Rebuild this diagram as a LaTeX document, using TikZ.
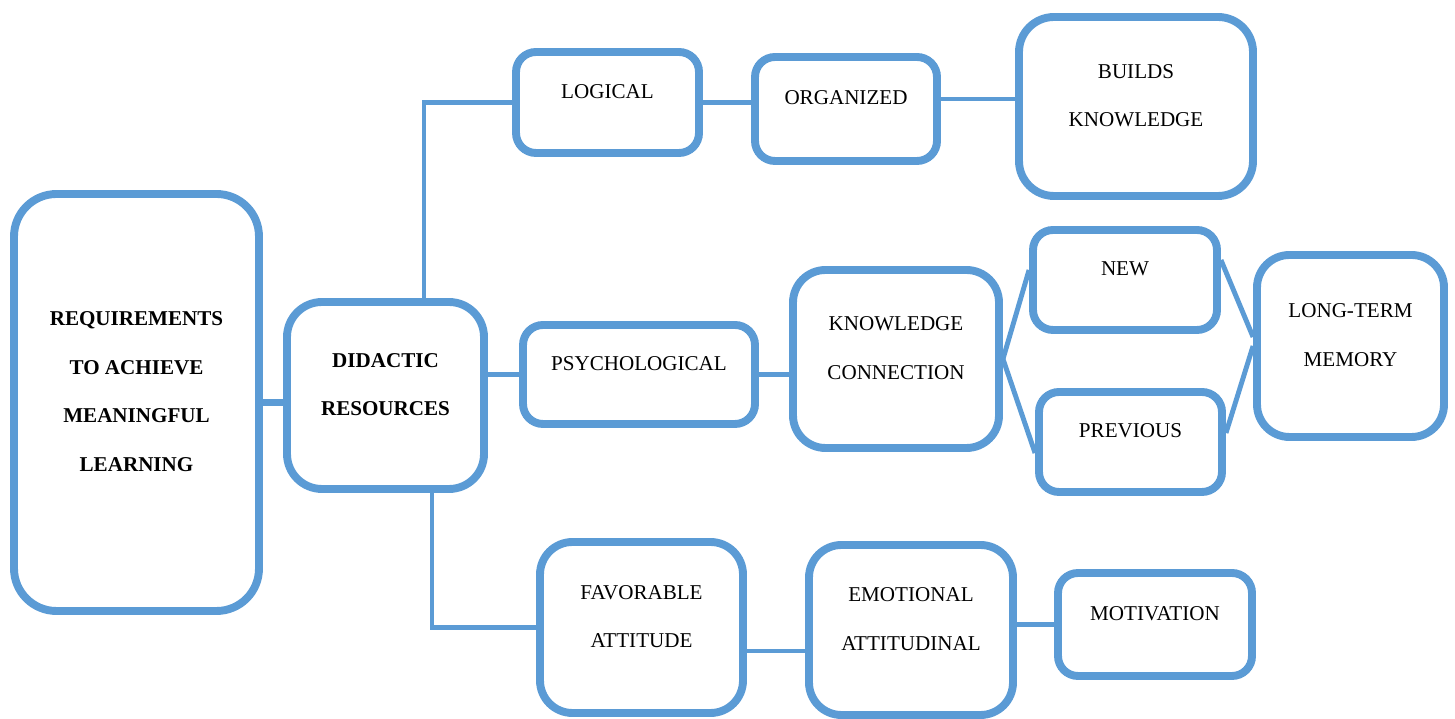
\documentclass[tikz,border=0pt]{standalone}
\usepackage{fontspec}
\setmainfont{Liberation Serif}
\usepackage{xcolor}
\usetikzlibrary{positioning, calc}
\definecolor{boxblue}{RGB}{91,155,213}

\begin{document}
\begin{tikzpicture}[
		box/.style={draw=boxblue, line width=4.5pt, rounded corners=0.4cm, align=center, inner sep=0pt,
			font=\fontsize{12}{27.8}\selectfont, text depth=0.44cm}, % text sits a bit above the middle
		bold/.style={font=\fontsize{12}{27.8}\selectfont\bfseries}, % bold text for the two left boxes
		link/.style={draw=boxblue, line width=2.8pt}, % connecting lines
		]
		\useasboundingbox (0,0) rectangle (29.1,14.38);
		% Root box and didactic resources
		\node[box, bold, minimum width=4.9cm, minimum height=8.34cm, rounded corners=0.85cm] (req) at (2.73,6.33) {REQUIREMENTS\\TO ACHIEVE\\MEANINGFUL\\LEARNING};
		\node[box, bold, minimum width=3.94cm, minimum height=3.74cm, rounded corners=0.7cm] (did) at (7.71,6.47) {DIDACTIC\\RESOURCES};
		% Top branch
		\node[box, minimum width=3.66cm, minimum height=2.02cm] (logical) at (12.15,12.33) {LOGICAL};
		\node[box, minimum width=3.64cm, minimum height=2.08cm] (organized) at (16.92,12.20) {ORGANIZED};
		\node[box, minimum width=4.68cm, minimum height=3.58cm, rounded corners=0.7cm] (builds) at (22.72,12.25) {BUILDS\\KNOWLEDGE};
		% Middle branch
		\node[box, minimum width=4.64cm, minimum height=1.98cm] (psych) at (12.78,6.89) {PSYCHOLOGICAL};
		\node[box, minimum width=4.12cm, minimum height=3.56cm, rounded corners=0.65cm] (knowledge) at (17.92,7.20) {KNOWLEDGE\\CONNECTION};
		\node[box, minimum width=3.68cm, minimum height=2.00cm] (new) at (22.50,8.78) {NEW};
		\node[box, minimum width=3.66cm, minimum height=2.00cm] (previous) at (22.61,5.54) {PREVIOUS};
		\node[box, minimum width=3.74cm, minimum height=3.64cm, rounded corners=0.65cm] (longterm) at (27.01,7.46) {LONG-TERM\\MEMORY};
		% Bottom branch
		\node[box, minimum width=4.06cm, minimum height=3.42cm, rounded corners=0.65cm] (favorable) at (12.83,1.83) {FAVORABLE\\ATTITUDE};
		\node[box, minimum width=4.08cm, minimum height=3.40cm, rounded corners=0.65cm] (emotional) at (18.22,1.78) {EMOTIONAL\\ATTITUDINAL};
		\node[box, minimum width=3.88cm, minimum height=2.06cm] (motivation) at (23.10,1.89) {MOTIVATION};
		% Connectors
		\draw[link, line width=4.5pt] (did.west |- req.east) -- (req.east);
		\draw[link] ([xshift=0.77cm]did.north) |- (logical.west);
		\draw[link] (logical.east) -- (logical.east -| organized.west);
		\draw[link] ([yshift=0.2cm]organized.east) -- ([yshift=0.2cm]organized.east -| builds.west);
		\draw[link] (did.east |- psych.west) -- (psych.west);
		\draw[link] (psych.east) -- (psych.east -| knowledge.west);
		\draw[link] (knowledge.east) -- ([yshift=0.2cm]new.west);
		\draw[link] (knowledge.east) -- ([yshift=-0.22cm]previous.west);
		\draw[link] ([yshift=0.4cm]new.east) -- ([yshift=0.18cm]longterm.west);
		\draw[link] ([yshift=0.18cm]previous.east) -- (longterm.west);
		\draw[link] ([xshift=0.93cm]did.south) |- (favorable.west);
		\draw[link] ([yshift=-0.47cm]favorable.east) -- ([yshift=-0.47cm]favorable.east -| emotional.west);
		\draw[link, line width=3.4pt] (emotional.east |- motivation.west) -- (motivation.west);
	\end{tikzpicture}
\end{document}
